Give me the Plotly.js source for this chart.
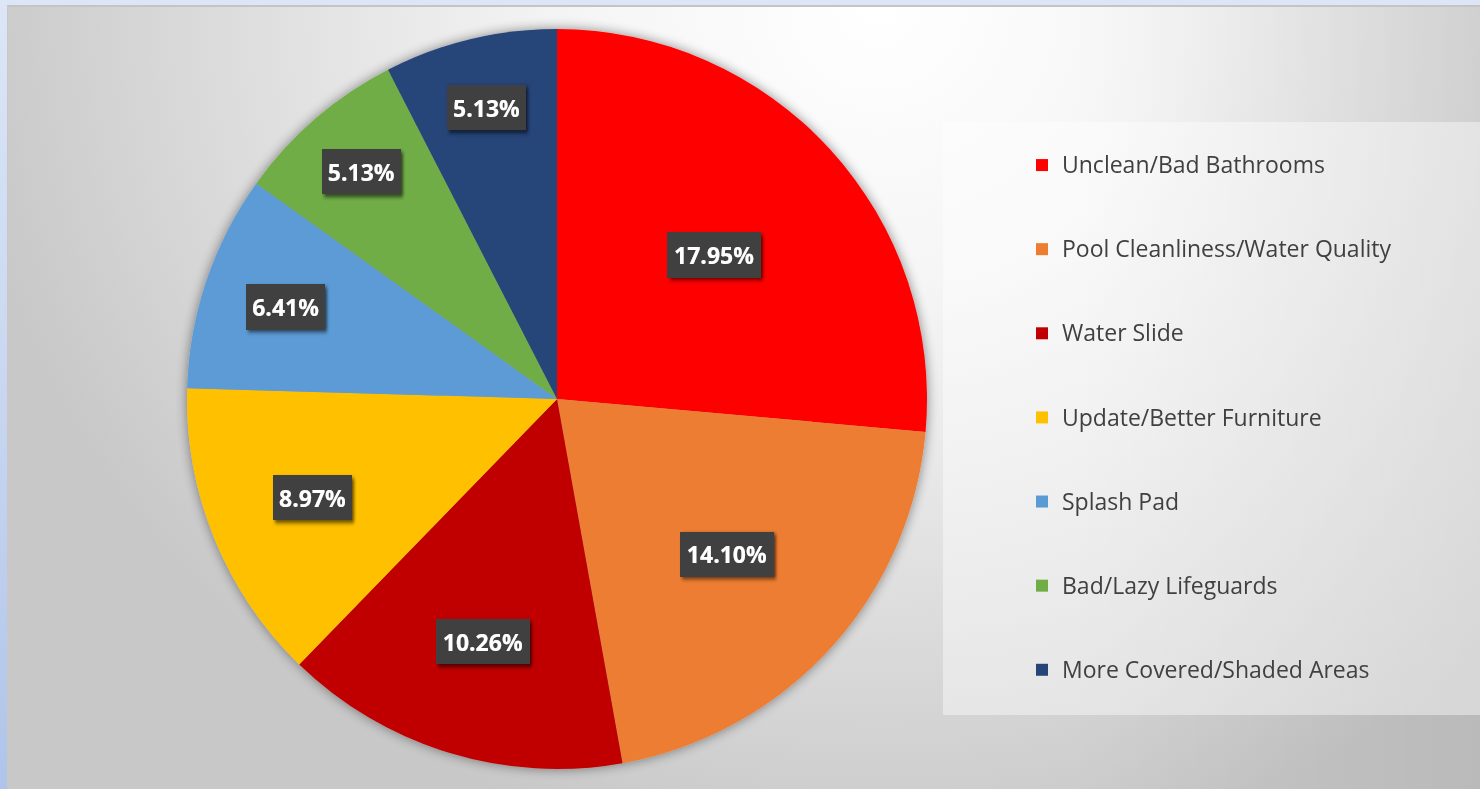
<!DOCTYPE html>
<html>
<head>
<meta charset="utf-8">
<script src="https://cdn.plot.ly/plotly-3.0.1.min.js"></script>
<style>
  html, body { margin: 0; padding: 0; width: 1480px; height: 789px; overflow: hidden; }
  #frame { position: absolute; left: 0; top: 0; width: 1480px; height: 789px;
           background: linear-gradient(to bottom, #dce6f6 0%, #c8d6f0 50%, #b0c4ea 100%); }
  #bg { position: absolute; left: 7px; top: 5px; width: 1473px; height: 784px;
        border-top: 2px solid #c4c4c4; border-left: 1px solid #c8c8c8; box-sizing: border-box;
        background:
          linear-gradient(to right, rgba(0,0,0,0) 72%, rgba(0,0,0,0.07) 100%),
          radial-gradient(ellipse 920px 860px at 870px 0px, #ffffff 0%, #f5f5f5 33%, #e4e4e4 60%, #c8c8c8 100%); }
  #chart { position: absolute; left: 0; top: 0; width: 1480px; height: 789px; }
  .pielayer .trace { filter: url(#pieShadow); }
  .slicetext text { filter: url(#lblbox); }
</style>
</head>
<body>
<svg width="0" height="0" style="position:absolute">
  <defs>
    <filter id="pieShadow" x="-0.1" y="-0.1" width="1.2" height="1.2">
      <feGaussianBlur in="SourceAlpha" stdDeviation="6" result="blur"/>
      <feComponentTransfer in="blur" result="sh"><feFuncA type="linear" slope="0.45"/></feComponentTransfer>
      <feMerge><feMergeNode in="sh"/><feMergeNode in="SourceGraphic"/></feMerge>
    </filter>
    <filter id="lblbox" x="-0.3" y="-0.6" width="1.6" height="2.2" primitiveUnits="objectBoundingBox">
      <feFlood flood-color="#000000" flood-opacity="0.6" x="-0.05" y="-0.12" width="1.16" height="1.38" result="sh0"/>
      <feGaussianBlur in="sh0" stdDeviation="0.02 0.06" x="-0.3" y="-0.6" width="1.6" height="2.2" result="sh"/>
      <feFlood flood-color="#414141" x="-0.08" y="-0.2" width="1.16" height="1.38" result="bg"/>
      <feMerge x="-0.3" y="-0.6" width="1.6" height="2.2"><feMergeNode in="sh"/><feMergeNode in="bg"/><feMergeNode in="SourceGraphic"/></feMerge>
    </filter>
  </defs>
</svg>
<div id="frame"></div>
<div id="bg"></div>
<div id="chart"></div>
<script>
// Categories and data (percent of respondents)
const categories = [
  "Unclean/Bad Bathrooms",
  "Pool Cleanliness/Water Quality",
  "Water Slide",
  "Update/Better Furniture",
  "Splash Pad",
  "Bad/Lazy Lifeguards",
  "More Covered/Shaded Areas"
];
const percents = [17.95, 14.10, 10.26, 8.97, 6.41, 5.13, 5.13];
const colors = ["#FF0000", "#ED7D31", "#C00000", "#FFC000", "#5B9BD5", "#70AD47", "#264478"];

// legend entries padded with blank lines for wider row spacing
const legendLabels = categories.map(c => '<br><span style="font-size:23px">' + c + '</span><br> ');

const trace = {
  type: 'pie',
  labels: legendLabels,
  values: percents,
  sort: false,
  direction: 'clockwise',
  rotation: 0,
  marker: { colors: colors, line: { width: 0 } },
  texttemplate: '%{value:.2f}%',
  textposition: 'inside',
  insidetextorientation: 'horizontal',
  insidetextfont: { family: 'Open Sans', size: 23, color: '#ffffff', weight: 'bold' },
  hoverinfo: 'none',
  domain: { x: [187/1480, 927/1480], y: [20/789, 760/789] }
};

const layout = {
  width: 1480, height: 789,
  margin: { l: 0, r: 0, t: 0, b: 0 },
  paper_bgcolor: 'rgba(0,0,0,0)',
  plot_bgcolor: 'rgba(0,0,0,0)',
  showlegend: true,
  legend: {
    x: 1022/1480, xanchor: 'left',
    y: 1 - 118/789, yanchor: 'top',
    bgcolor: 'rgba(0,0,0,0)', borderwidth: 0,
    font: { family: 'Open Sans', size: 20.8, color: '#404040' },
    traceorder: 'normal'
  },
  shapes: [{
    type: 'rect', xref: 'paper', yref: 'paper',
    x0: 943/1480, x1: 1, y0: 1 - 715/789, y1: 1 - 122/789,
    fillcolor: 'rgba(255,255,255,0.42)', line: { width: 0 }, layer: 'below'
  }]
};

Plotly.newPlot('chart', [trace], layout, { displayModeBar: false, staticPlot: true });
</script>
</body>
</html>
